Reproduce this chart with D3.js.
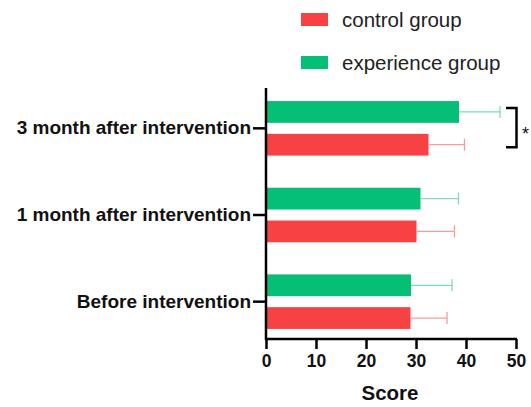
<!DOCTYPE html>
<html>
<head>
<meta charset="utf-8">
<script src="https://cdn.jsdelivr.net/npm/d3@7"></script>
<style>
  html, body { margin: 0; padding: 0; background: #fff; }
  svg { display: block; }
</style>
</head>
<body>
<svg id="chart" width="531" height="407"></svg>
<script>
// Timepoints (top to bottom) and group scores (mean and SD)
const categories = ["3 month after intervention", "1 month after intervention", "Before intervention"];
const seriesNames = ["experience group", "control group"];
const experienceMean = [38.6, 30.9, 29.0];
const experienceSD = [8.2, 7.6, 8.2];
const controlMean = [32.5, 30.1, 28.9];
const controlSD = [7.2, 7.6, 7.3];
const xTicks = [0, 10, 20, 30, 40, 50];
const legendNames = ["control group", "experience group"];

const colors = { "control group": "#f84142", "experience group": "#06bf77" };
const errColors = { "control group": "#fa9a9a", "experience group": "#7edcb5" };

const svg = d3.select("#chart");
const plotLeft = 266, plotRight = 516, plotTop = 88, plotBottom = 339;
const font = "Liberation Sans, Arial, sans-serif";

const x = d3.scaleLinear().domain([0, 50]).range([plotLeft, plotRight]);
const y = d3.scaleBand().domain(categories).range([85, 345]).paddingInner(0).paddingOuter(0);
const sub = d3.scaleBand().domain(seriesNames).range([0, y.bandwidth()]).paddingInner(0.336).paddingOuter(0.49);

const rows = [];
categories.forEach((c, i) => {
  rows.push({ cat: c, group: "experience group", mean: experienceMean[i], sd: experienceSD[i] });
  rows.push({ cat: c, group: "control group", mean: controlMean[i], sd: controlSD[i] });
});

// Bars
svg.append("g").selectAll("rect").data(rows).join("rect")
  .attr("x", x(0))
  .attr("y", d => y(d.cat) + sub(d.group))
  .attr("width", d => x(d.mean) - x(0))
  .attr("height", sub.bandwidth())
  .attr("fill", d => colors[d.group]);

// Error bars (one-sided, to the right)
const eb = svg.append("g");
rows.forEach(d => {
  const cy = y(d.cat) + sub(d.group) + sub.bandwidth() / 2;
  const x1 = x(d.mean), x2 = x(d.mean + d.sd);
  eb.append("line").attr("x1", x1).attr("x2", x2).attr("y1", cy).attr("y2", cy)
    .attr("stroke", errColors[d.group]).attr("stroke-width", 1.3);
  eb.append("line").attr("x1", x2).attr("x2", x2).attr("y1", cy - 6).attr("y2", cy + 6)
    .attr("stroke", errColors[d.group]).attr("stroke-width", 1.3);
});

// X axis
const xAxis = svg.append("g").attr("transform", `translate(0,${plotBottom})`)
  .call(d3.axisBottom(x).tickValues(xTicks).tickSize(10).tickPadding(6).tickFormat(d3.format("d")));
xAxis.select(".domain").attr("stroke", "#000").attr("stroke-width", 2.5).attr("d", `M${plotLeft - 1},0H${plotRight + 1}`);
xAxis.selectAll(".tick line").attr("stroke", "#000").attr("stroke-width", 2.5);
xAxis.selectAll(".tick text").attr("fill", "#111")
  .style("font-family", font).style("font-size", "17.5px").style("font-weight", "bold");

// Y axis
const yAxis = svg.append("g").attr("transform", `translate(${plotLeft},0)`)
  .call(d3.axisLeft(y).tickSize(13).tickPadding(2));
yAxis.select(".domain").attr("stroke", "#000").attr("stroke-width", 2.5).attr("d", `M0,${plotTop}V${plotBottom + 1}`);
yAxis.selectAll(".tick line").attr("stroke", "#000").attr("stroke-width", 2.5);
yAxis.selectAll(".tick text").attr("fill", "#111")
  .style("font-family", font).style("font-size", "19px").style("font-weight", "bold");

// X axis title
svg.append("text").attr("x", 390).attr("y", 400).attr("text-anchor", "middle")
  .attr("fill", "#111").style("font-family", font)
  .style("font-size", "20.5px").style("font-weight", "bold").text("Score");

// Significance bracket between groups at 3 months
const c0 = categories[0];
const yTop = y(c0) + sub("experience group") + sub.bandwidth() / 2;
const yBot = y(c0) + sub("control group") + sub.bandwidth() / 2;
svg.append("path")
  .attr("d", `M506,${yTop - 4}H516.5V${yBot + 2.5}H506`)
  .attr("fill", "none").attr("stroke", "#000").attr("stroke-width", 2.5);
svg.append("text").attr("x", 522).attr("y", (yTop + yBot) / 2 + 12)
  .attr("fill", "#111").style("font-family", font)
  .style("font-size", "18px").text("*");

// Legend
const lg = svg.append("g");
legendNames.forEach((name, i) => {
  const ly = 13 + i * 43;
  lg.append("rect").attr("x", 301).attr("y", ly).attr("width", 27).attr("height", 13).attr("fill", colors[name]);
  lg.append("text").attr("x", 342).attr("y", ly + 14).attr("fill", "#222")
    .style("font-family", font).style("font-size", "20.5px").text(name);
});
</script>
</body>
</html>
